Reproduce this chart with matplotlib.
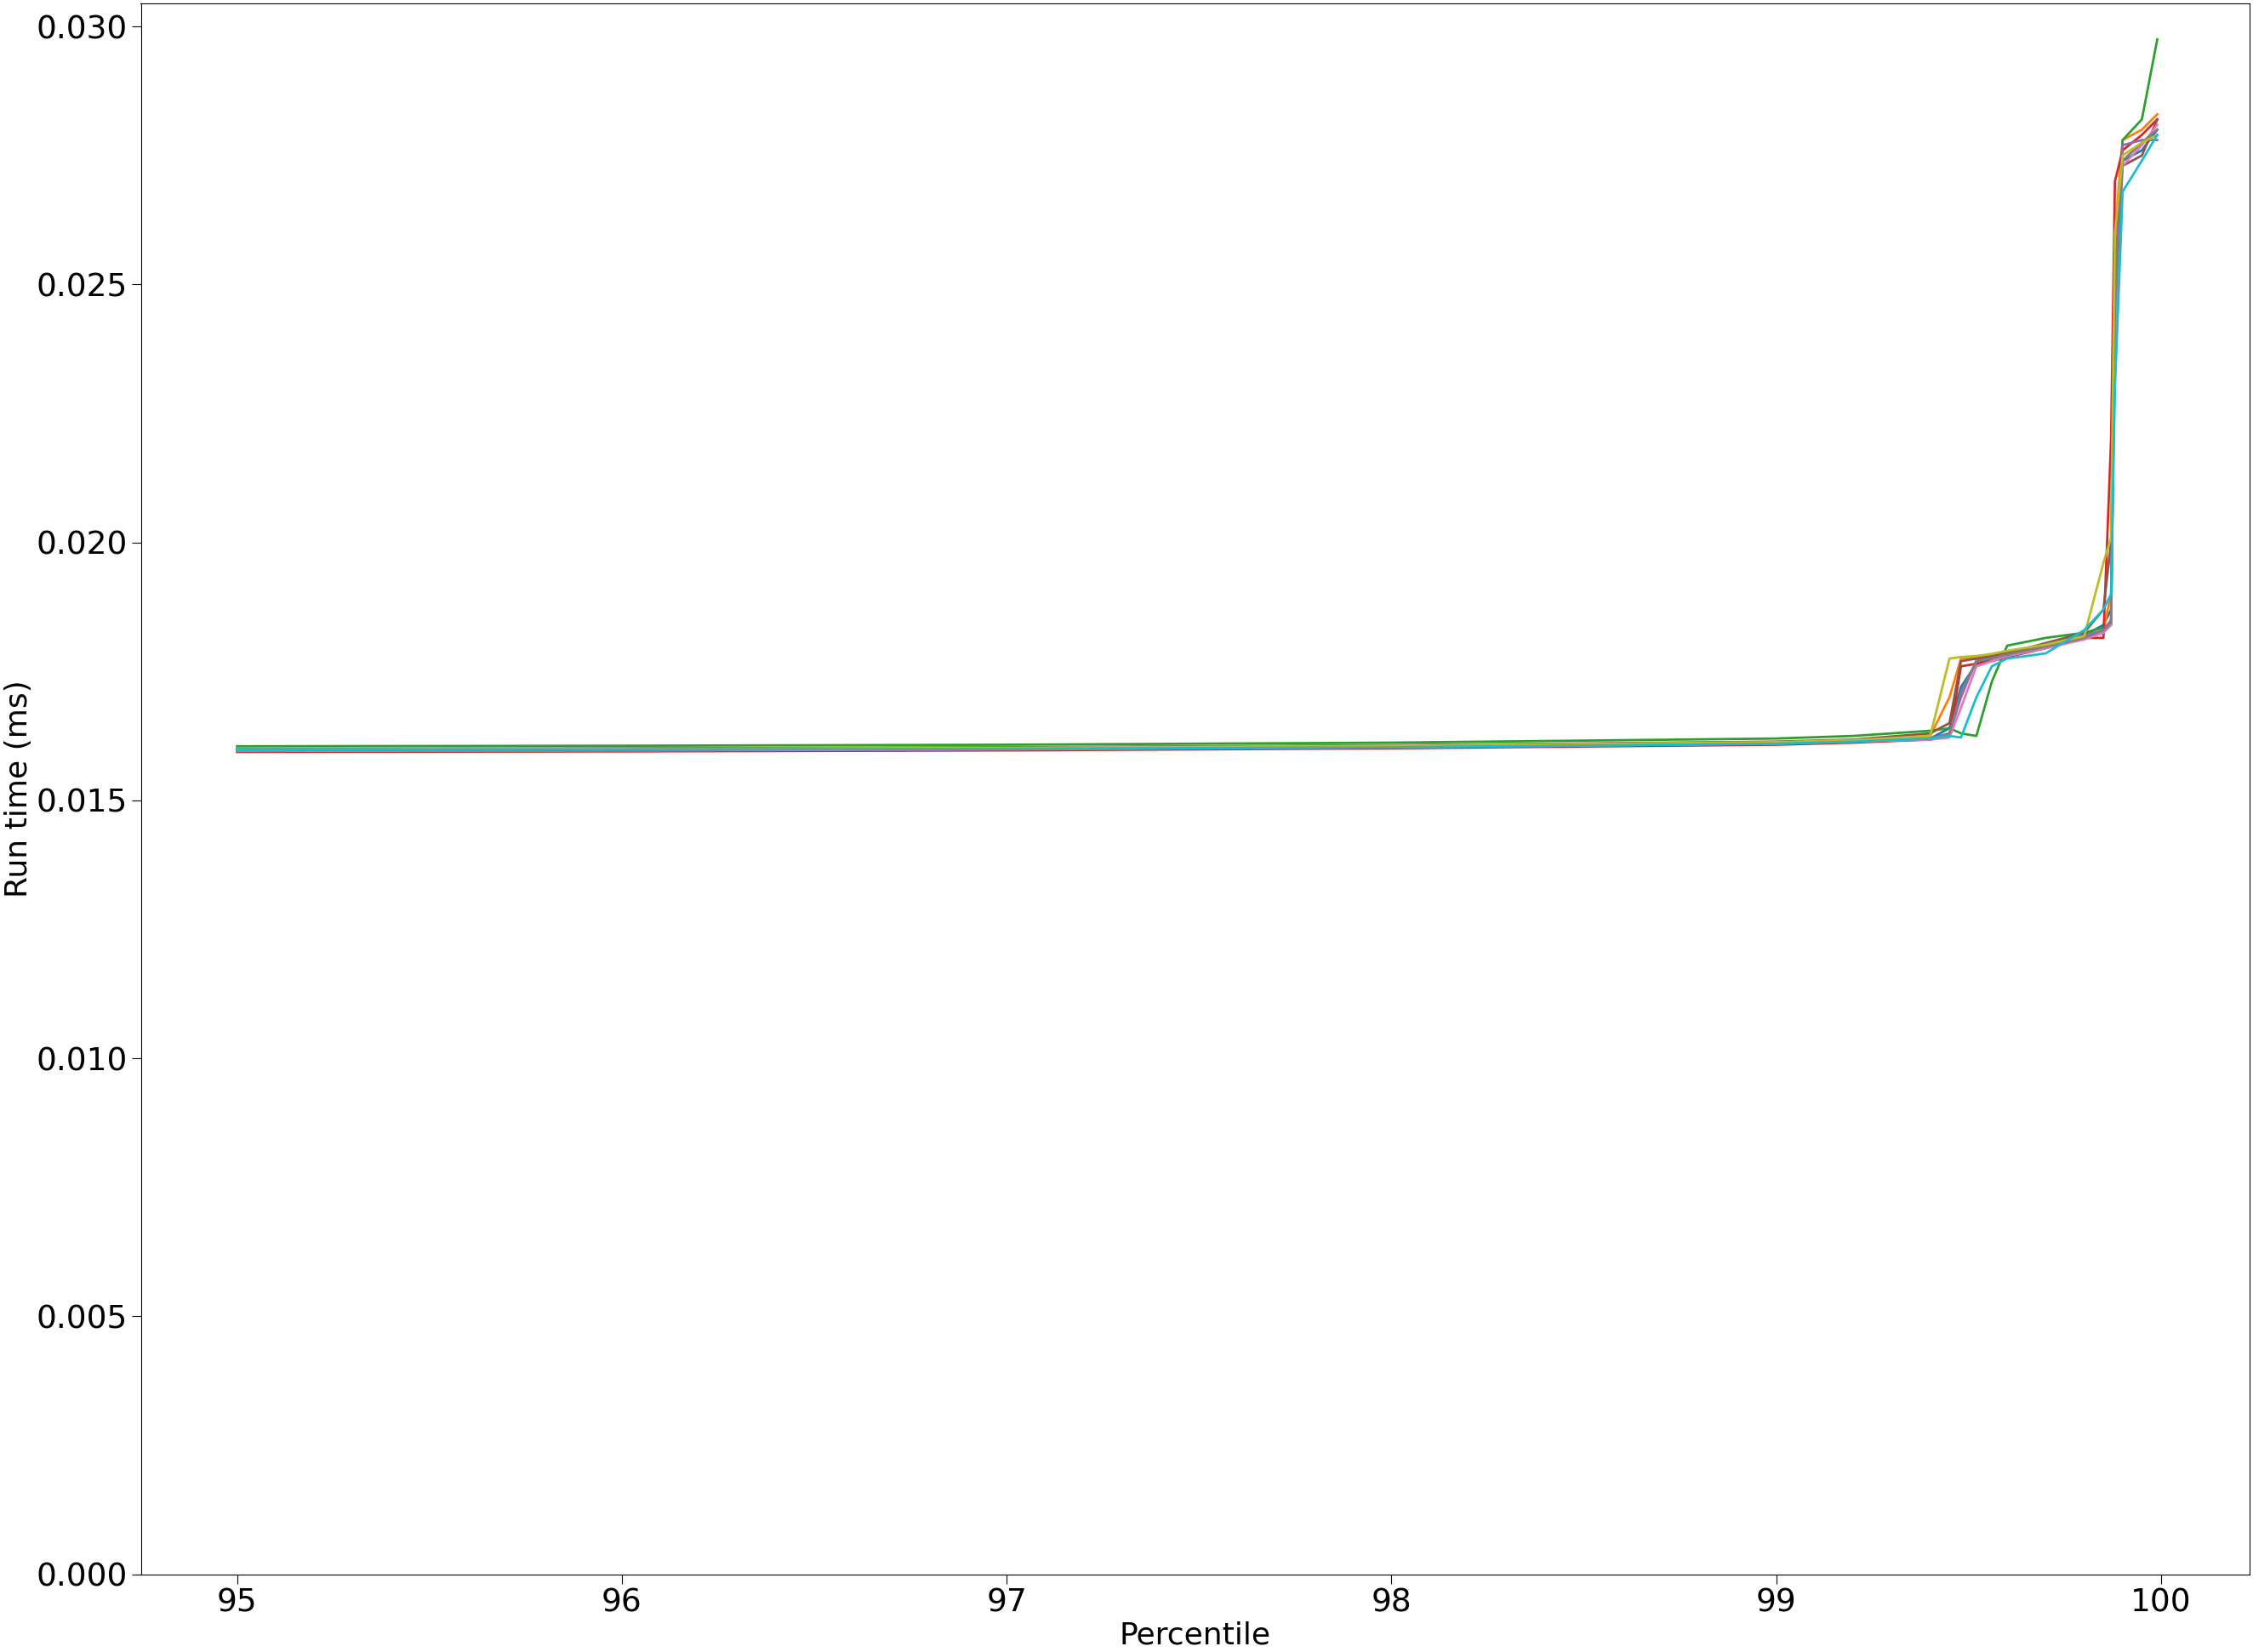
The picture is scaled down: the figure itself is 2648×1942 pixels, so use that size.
import numpy as np
from matplotlib import pyplot as plt

# percentile grid shared by all runs
pct = [95.0, 96.0, 97.0, 98.0, 99.0, 99.2, 99.4, 99.45, 99.48, 99.52, 99.56, 99.6,
       99.7, 99.8, 99.85, 99.87, 99.88, 99.9, 99.95, 99.99]

# run time (ms) per run
runs = [
    [.01597, .01598, .01600, .01603, .01610, .01614, .01620, .01640, .01720, .01765, .01775, .01783, .01800, .01820, .01840, .01870, .02500, .02740, .02760, .02800],
    [.01599, .01600, .01602, .01606, .01612, .01616, .01625, .01700, .01775, .01778, .01782, .01788, .01800, .01815, .01830, .01900, .02600, .02780, .02800, .02830],
    [.01605, .01606, .01608, .01612, .01620, .01625, .01635, .01640, .01630, .01625, .01730, .01800, .01815, .01825, .01835, .01840, .02500, .02780, .02820, .02975],
    [.01594, .01595, .01597, .01601, .01608, .01612, .01618, .01625, .01760, .01765, .01770, .01778, .01795, .01815, .01815, .02200, .02700, .02760, .02790, .02820],
    [.01598, .01599, .01601, .01604, .01611, .01615, .01620, .01630, .01700, .01772, .01778, .01785, .01800, .01820, .01830, .01850, .02500, .02770, .02780, .02780],
    [.01600, .01601, .01603, .01607, .01614, .01618, .01630, .01650, .01770, .01775, .01780, .01785, .01805, .01825, .01870, .02000, .02600, .02730, .02750, .02820],
    [.01596, .01597, .01599, .01603, .01610, .01614, .01618, .01622, .01680, .01760, .01770, .01780, .01795, .01812, .01825, .01840, .02400, .02730, .02770, .02810],
    [.01597, .01598, .01600, .01604, .01611, .01615, .01620, .01630, .01710, .01770, .01776, .01783, .01798, .01815, .01830, .01845, .02450, .02740, .02775, .02800],
    [.01599, .01600, .01602, .01606, .01613, .01617, .01625, .01775, .01778, .01780, .01784, .01790, .01802, .01818, .01960, .02010, .02600, .02750, .02775, .02790],
    [.01598, .01599, .01600, .01603, .01610, .01614, .01620, .01625, .01622, .01700, .01760, .01775, .01785, .01830, .01870, .01900, .02300, .02680, .02740, .02790],
]

fig = plt.figure(figsize=(26.48, 19.42), dpi=100)
ax = fig.add_axes([0.0625, 0.047, 0.936, 0.951])
for r in runs:
    ax.plot(pct, r, linewidth=2)

ax.set_xlim(94.75, 100.23)
ax.set_ylim(0, 0.03045)
ax.set_xlabel('Percentile', fontsize=26, labelpad=2)
ax.set_ylabel('Run time (ms)', fontsize=26, labelpad=2)
ax.tick_params(labelsize=27, length=8)
ax.yaxis.set_major_formatter(plt.FormatStrFormatter('%.3f'))

fig.savefig('out.png')
